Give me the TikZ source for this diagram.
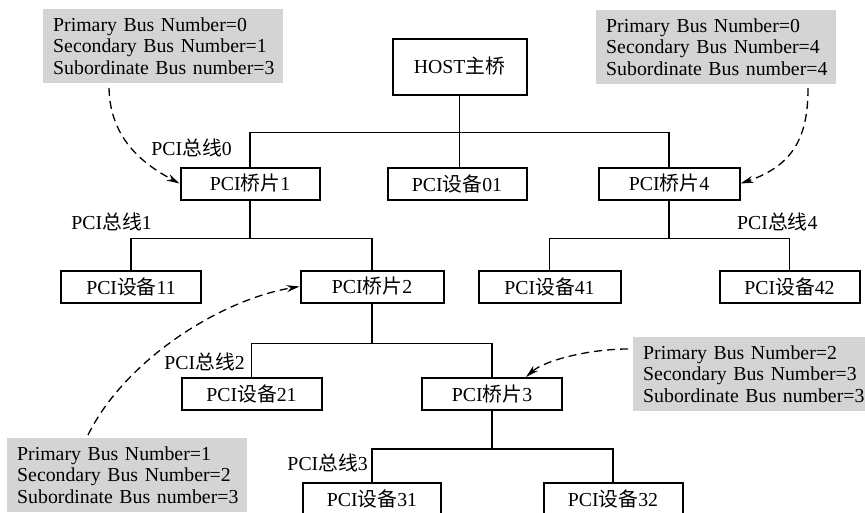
\documentclass[tikz,border=0pt]{standalone}
\usepackage{fontspec}
\setmainfont{Liberation Serif}
\newfontfamily\cjk{Noto Sans CJK SC}
\newcommand\zh[1]{{\cjk #1}}
\newcommand\noteline[1]{\mbox{#1}}
\usetikzlibrary{arrows.meta}
\definecolor{notegray}{RGB}{212,212,212}
\begin{document}
\begin{tikzpicture}[x=1pt,y=-1pt,
  font=\fontsize{19.8}{21.7}\selectfont,
  box/.style={draw,line width=2pt,minimum width=140pt,minimum height=32pt,inner sep=0pt},
  bus/.style={line width=1.3pt},
  buslabel/.style={inner sep=0pt},
  note/.style={fill=notegray,anchor=north west,text width=220pt,inner xsep=10pt,
    inner ysep=0pt,minimum height=74pt,align=left},
  ref/.style={dash pattern=on 8pt off 5pt,line width=1.3pt,-{Stealth[length=13pt,width=7pt]}}]
\useasboundingbox (0,0) rectangle (865,512);

% bus-number notes
\node[note] (n1) at (43,9) {\noteline{Primary Bus Number=0}\\\noteline{Secondary Bus Number=1}\\\noteline{Subordinate Bus number=3}};
\node[note] (n4) at (596,10) {\noteline{Primary Bus Number=0}\\\noteline{Secondary Bus Number=4}\\\noteline{Subordinate Bus number=4}};
\node[note] (n3) at (633,337) {\noteline{Primary Bus Number=2}\\\noteline{Secondary Bus Number=3}\\\noteline{Subordinate Bus number=3}};
\node[note] (n2) at (7,438) {\noteline{Primary Bus Number=1}\\\noteline{Secondary Bus Number=2}\\\noteline{Subordinate Bus number=3}};

% host bridge, bridges and devices
\node[box,minimum width=134pt,minimum height=56pt] (host) at (459.5,66.5) {HOST\zh{主桥}};
\node[box,minimum width=139pt] (b1) at (250,183.5) {PCI\zh{桥片}1};
\node[box,minimum width=139pt] (d01) at (457,183.5) {PCI\zh{设备}01};
\node[box,minimum width=141pt] (b4) at (669,183.5) {PCI\zh{桥片}4};
\node[box] (d11) at (131,286.5) {PCI\zh{设备}11};
\node[box,minimum width=143pt] (b2) at (372,286.5) {PCI\zh{桥片}2};
\node[box,minimum width=142pt] (d41) at (549.5,286.5) {PCI\zh{设备}41};
\node[box] (d42) at (789.5,286.5) {PCI\zh{设备}42};
\node[box] (d21) at (251.5,394) {PCI\zh{设备}21};
\node[box] (b3) at (492,394) {PCI\zh{桥片}3};
\node[box,minimum width=138pt] (d31) at (372,498.5) {PCI\zh{设备}31};
\node[box,minimum width=139pt] (d32) at (613,498.5) {PCI\zh{设备}32};

% buses
\draw[bus] (host.south) -- ++(0,37) coordinate (bus0);
\draw[bus] (b1.north) |- (bus0) -| (b4.north);
\draw[bus] (bus0) -- (bus0 |- d01.north);
\draw[bus] (b1.south) -- ++(0,38) coordinate (bus1);
\draw[bus] (d11.north) |- (bus1) -| (b2.north);
\draw[bus] (b4.south) -- ++(0,38) coordinate (bus4);
\draw[bus] (d41.north) |- (bus4) -| (d42.north);
\draw[bus] (b2.south) -- ++(0,40) coordinate (bus2);
\draw[bus] (d21.north) |- (bus2) -| (b3.north);
\draw[bus] (b3.south) -- ++(0,38) coordinate (bus3);
\draw[bus] (d31.north) |- (bus3) -| (d32.north);

% bus labels
\node[buslabel,anchor=east] (l0) at (232,148) {PCI\zh{总线}0};
\node[buslabel,anchor=east] (l1) at (152,222) {PCI\zh{总线}1};
\node[buslabel,anchor=west] (l4) at (737,222) {PCI\zh{总线}4};
\node[buslabel,anchor=east] (l2) at (245,362) {PCI\zh{总线}2};
\node[buslabel,anchor=east] (l3) at (368,463) {PCI\zh{总线}3};

% references from notes to bridges
\coordinate (s1) at (109,88);
\coordinate (s4) at (808,88);
\coordinate (s2) at (88,435);
\coordinate (s3) at (628,349);
\draw[ref] (s1) .. controls (110,140) and (145,165) .. (b1.west);
\draw[ref] (s4) .. controls (808,135) and (795,165) .. (b4.east);
\draw[ref] (s2) .. controls (125,360) and (220,300) .. (b2.west);
\draw[ref] (s3) .. controls (590,349) and (545,360) .. ([xshift=34pt]b3.north);
\end{tikzpicture}
\end{document}
